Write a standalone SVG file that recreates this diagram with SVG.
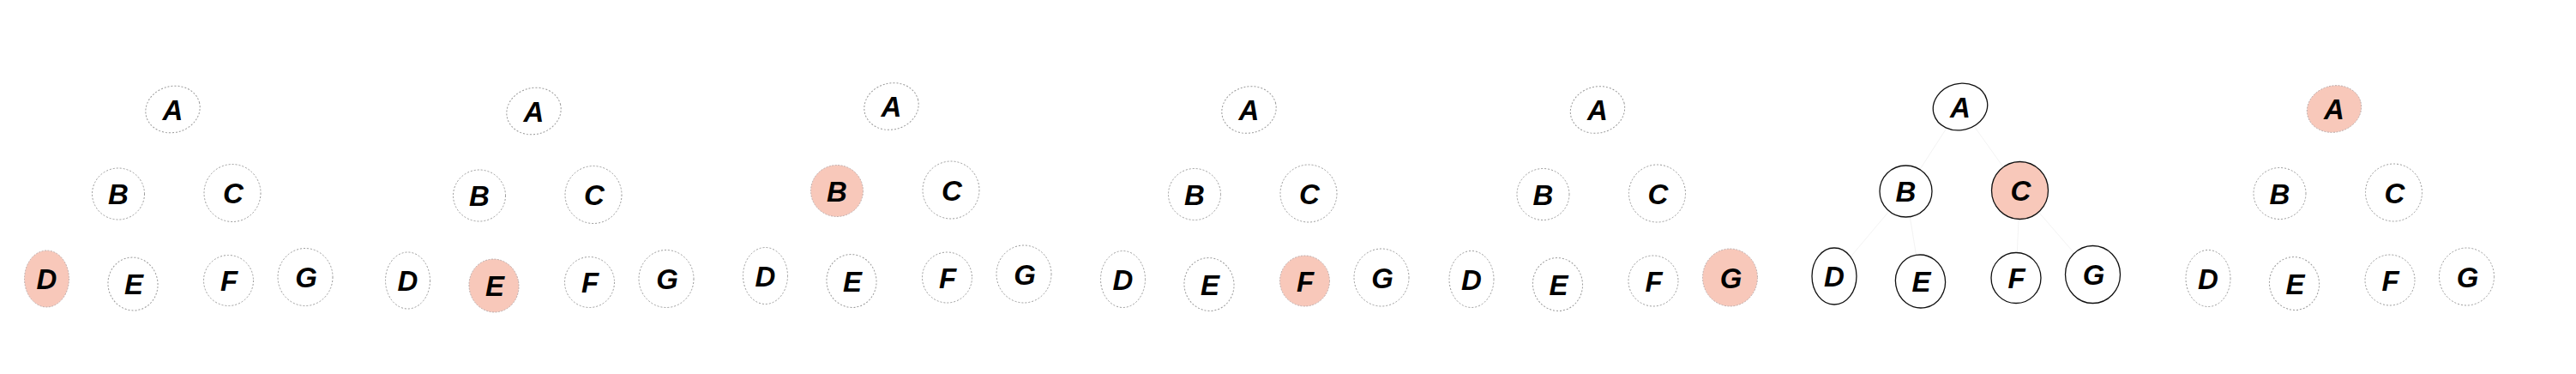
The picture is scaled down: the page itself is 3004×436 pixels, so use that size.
<svg xmlns="http://www.w3.org/2000/svg" width="3004" height="436" viewBox="0 0 3004 436">
<style>
.n{fill:#ffffff;stroke:#9a9a9a;stroke-width:1;stroke-dasharray:2 2}
.h{fill:#f8c8ba;stroke:#b0a0a0;stroke-width:0.8;stroke-dasharray:2 1.5}
.s{fill:#ffffff;stroke:#111111;stroke-width:1.3}
.sh{fill:#f8c8ba;stroke:#111111;stroke-width:1.3}
.t{font-family:"Liberation Sans",Arial,sans-serif;font-size:33px;font-weight:bold;font-style:italic;fill:#000;text-anchor:middle}
.e{stroke:#f3f3f3;stroke-width:1;fill:none}
</style>
<rect width="3004" height="436" fill="#ffffff"/>

<!-- Panel 1 -->
<g id="panel1" transform="translate(0,0)">
<g id="p1-A"><ellipse class="n" cx="201.5" cy="127.5" rx="32" ry="27" transform="rotate(-15 201.5 127.5)"/><text class="t" x="201.5" y="139.5">A</text></g>
<g id="p1-B"><ellipse class="n" cx="138" cy="226" rx="30.5" ry="30"/><text class="t" x="138" y="238">B</text></g>
<g id="p1-C"><ellipse class="n" cx="271" cy="225" rx="33" ry="33.5"/><text class="t" x="272" y="237">C</text></g>
<g id="p1-D"><ellipse class="h" cx="54.5" cy="325" rx="26" ry="33"/><text class="t" x="54.5" y="337">D</text></g>
<g id="p1-E"><ellipse class="n" cx="155" cy="331" rx="29" ry="31" transform="rotate(-10 155 331)"/><text class="t" x="156" y="343">E</text></g>
<g id="p1-F"><ellipse class="n" cx="266.5" cy="327" rx="29" ry="29.5"/><text class="t" x="267" y="339">F</text></g>
<g id="p1-G"><ellipse class="n" cx="356" cy="323" rx="32" ry="33.5"/><text class="t" x="357" y="335">G</text></g>
</g>

<!-- Panel 2 -->
<g id="panel2" transform="translate(421,2)">
<g id="p2-A"><ellipse class="n" cx="201.5" cy="127.5" rx="32" ry="27" transform="rotate(-15 201.5 127.5)"/><text class="t" x="201.5" y="139.5">A</text></g>
<g id="p2-B"><ellipse class="n" cx="138" cy="226" rx="30.5" ry="30"/><text class="t" x="138" y="238">B</text></g>
<g id="p2-C"><ellipse class="n" cx="271" cy="225" rx="33" ry="33.5"/><text class="t" x="272" y="237">C</text></g>
<g id="p2-D"><ellipse class="n" cx="54.5" cy="325" rx="26" ry="33"/><text class="t" x="54.5" y="337">D</text></g>
<g id="p2-E"><ellipse class="h" cx="155" cy="331" rx="29" ry="31" transform="rotate(-10 155 331)"/><text class="t" x="156" y="343">E</text></g>
<g id="p2-F"><ellipse class="n" cx="266.5" cy="327" rx="29" ry="29.5"/><text class="t" x="267" y="339">F</text></g>
<g id="p2-G"><ellipse class="n" cx="356" cy="323" rx="32" ry="33.5"/><text class="t" x="357" y="335">G</text></g>
</g>

<!-- Panel 3 -->
<g id="panel3" transform="translate(838,-3.5)">
<g id="p3-A"><ellipse class="n" cx="201.5" cy="127.5" rx="32" ry="27" transform="rotate(-15 201.5 127.5)"/><text class="t" x="201.5" y="139.5">A</text></g>
<g id="p3-B"><ellipse class="h" cx="138" cy="226" rx="30.5" ry="30"/><text class="t" x="138" y="238">B</text></g>
<g id="p3-C"><ellipse class="n" cx="271" cy="225" rx="33" ry="33.5"/><text class="t" x="272" y="237">C</text></g>
<g id="p3-D"><ellipse class="n" cx="54.5" cy="325" rx="26" ry="33"/><text class="t" x="54.5" y="337">D</text></g>
<g id="p3-E"><ellipse class="n" cx="155" cy="331" rx="29" ry="31" transform="rotate(-10 155 331)"/><text class="t" x="156" y="343">E</text></g>
<g id="p3-F"><ellipse class="n" cx="266.5" cy="327" rx="29" ry="29.5"/><text class="t" x="267" y="339">F</text></g>
<g id="p3-G"><ellipse class="n" cx="356" cy="323" rx="32" ry="33.5"/><text class="t" x="357" y="335">G</text></g>
</g>

<!-- Panel 4 -->
<g id="panel4" transform="translate(1255,0.5)">
<g id="p4-A"><ellipse class="n" cx="201.5" cy="127.5" rx="32" ry="27" transform="rotate(-15 201.5 127.5)"/><text class="t" x="201.5" y="139.5">A</text></g>
<g id="p4-B"><ellipse class="n" cx="138" cy="226" rx="30.5" ry="30"/><text class="t" x="138" y="238">B</text></g>
<g id="p4-C"><ellipse class="n" cx="271" cy="225" rx="33" ry="33.5"/><text class="t" x="272" y="237">C</text></g>
<g id="p4-D"><ellipse class="n" cx="54.5" cy="325" rx="26" ry="33"/><text class="t" x="54.5" y="337">D</text></g>
<g id="p4-E"><ellipse class="n" cx="155" cy="331" rx="29" ry="31" transform="rotate(-10 155 331)"/><text class="t" x="156" y="343">E</text></g>
<g id="p4-F"><ellipse class="h" cx="266.5" cy="327" rx="29" ry="29.5"/><text class="t" x="267" y="339">F</text></g>
<g id="p4-G"><ellipse class="n" cx="356" cy="323" rx="32" ry="33.5"/><text class="t" x="357" y="335">G</text></g>
</g>

<!-- Panel 5 -->
<g id="panel5" transform="translate(1661.5,0.5)">
<g id="p5-A"><ellipse class="n" cx="201.5" cy="127.5" rx="32" ry="27" transform="rotate(-15 201.5 127.5)"/><text class="t" x="201.5" y="139.5">A</text></g>
<g id="p5-B"><ellipse class="n" cx="138" cy="226" rx="30.5" ry="30"/><text class="t" x="138" y="238">B</text></g>
<g id="p5-C"><ellipse class="n" cx="271" cy="225" rx="33" ry="33.5"/><text class="t" x="272" y="237">C</text></g>
<g id="p5-D"><ellipse class="n" cx="54.5" cy="325" rx="26" ry="33"/><text class="t" x="54.5" y="337">D</text></g>
<g id="p5-E"><ellipse class="n" cx="155" cy="331" rx="29" ry="31" transform="rotate(-10 155 331)"/><text class="t" x="156" y="343">E</text></g>
<g id="p5-F"><ellipse class="n" cx="266.5" cy="327" rx="29" ry="29.5"/><text class="t" x="267" y="339">F</text></g>
<g id="p5-G"><ellipse class="h" cx="356" cy="323" rx="32" ry="33.5"/><text class="t" x="357" y="335">G</text></g>
</g>

<!-- Panel 6 -->
<g id="panel6" transform="translate(2084.5,-3)">
<g id="connectors">
<line class="e" x1="201.5" y1="127.5" x2="138" y2="226"/>
<line class="e" x1="201.5" y1="127.5" x2="271" y2="225"/>
<line class="e" x1="138" y1="226" x2="54.5" y2="325"/>
<line class="e" x1="138" y1="226" x2="155" y2="331"/>
<line class="e" x1="271" y1="225" x2="266.5" y2="327"/>
<line class="e" x1="271" y1="225" x2="356" y2="323"/>
</g>
<g id="p6-A"><ellipse class="s" cx="201.5" cy="127.5" rx="32" ry="27" transform="rotate(-15 201.5 127.5)"/><text class="t" x="201.5" y="139.5">A</text></g>
<g id="p6-B"><ellipse class="s" cx="138" cy="226" rx="30.5" ry="30"/><text class="t" x="138" y="238">B</text></g>
<g id="p6-C"><ellipse class="sh" cx="271" cy="225" rx="33" ry="33.5"/><text class="t" x="272" y="237">C</text></g>
<g id="p6-D"><ellipse class="s" cx="54.5" cy="325" rx="26" ry="33"/><text class="t" x="54.5" y="337">D</text></g>
<g id="p6-E"><ellipse class="s" cx="155" cy="331" rx="29" ry="31" transform="rotate(-10 155 331)"/><text class="t" x="156" y="343">E</text></g>
<g id="p6-F"><ellipse class="s" cx="266.5" cy="327" rx="29" ry="29.5"/><text class="t" x="267" y="339">F</text></g>
<g id="p6-G"><ellipse class="s" cx="356" cy="323" rx="32" ry="33.5"/><text class="t" x="357" y="335">G</text></g>
</g>

<!-- Panel 7 -->
<g id="panel7" transform="translate(2520.5,-0.5)">
<g id="p7-A"><ellipse class="h" cx="201.5" cy="127.5" rx="32" ry="27" transform="rotate(-15 201.5 127.5)"/><text class="t" x="201.5" y="139.5">A</text></g>
<g id="p7-B"><ellipse class="n" cx="138" cy="226" rx="30.5" ry="30"/><text class="t" x="138" y="238">B</text></g>
<g id="p7-C"><ellipse class="n" cx="271" cy="225" rx="33" ry="33.5"/><text class="t" x="272" y="237">C</text></g>
<g id="p7-D"><ellipse class="n" cx="54.5" cy="325" rx="26" ry="33"/><text class="t" x="54.5" y="337">D</text></g>
<g id="p7-E"><ellipse class="n" cx="155" cy="331" rx="29" ry="31" transform="rotate(-10 155 331)"/><text class="t" x="156" y="343">E</text></g>
<g id="p7-F"><ellipse class="n" cx="266.5" cy="327" rx="29" ry="29.5"/><text class="t" x="267" y="339">F</text></g>
<g id="p7-G"><ellipse class="n" cx="356" cy="323" rx="32" ry="33.5"/><text class="t" x="357" y="335">G</text></g>
</g>
</svg>
